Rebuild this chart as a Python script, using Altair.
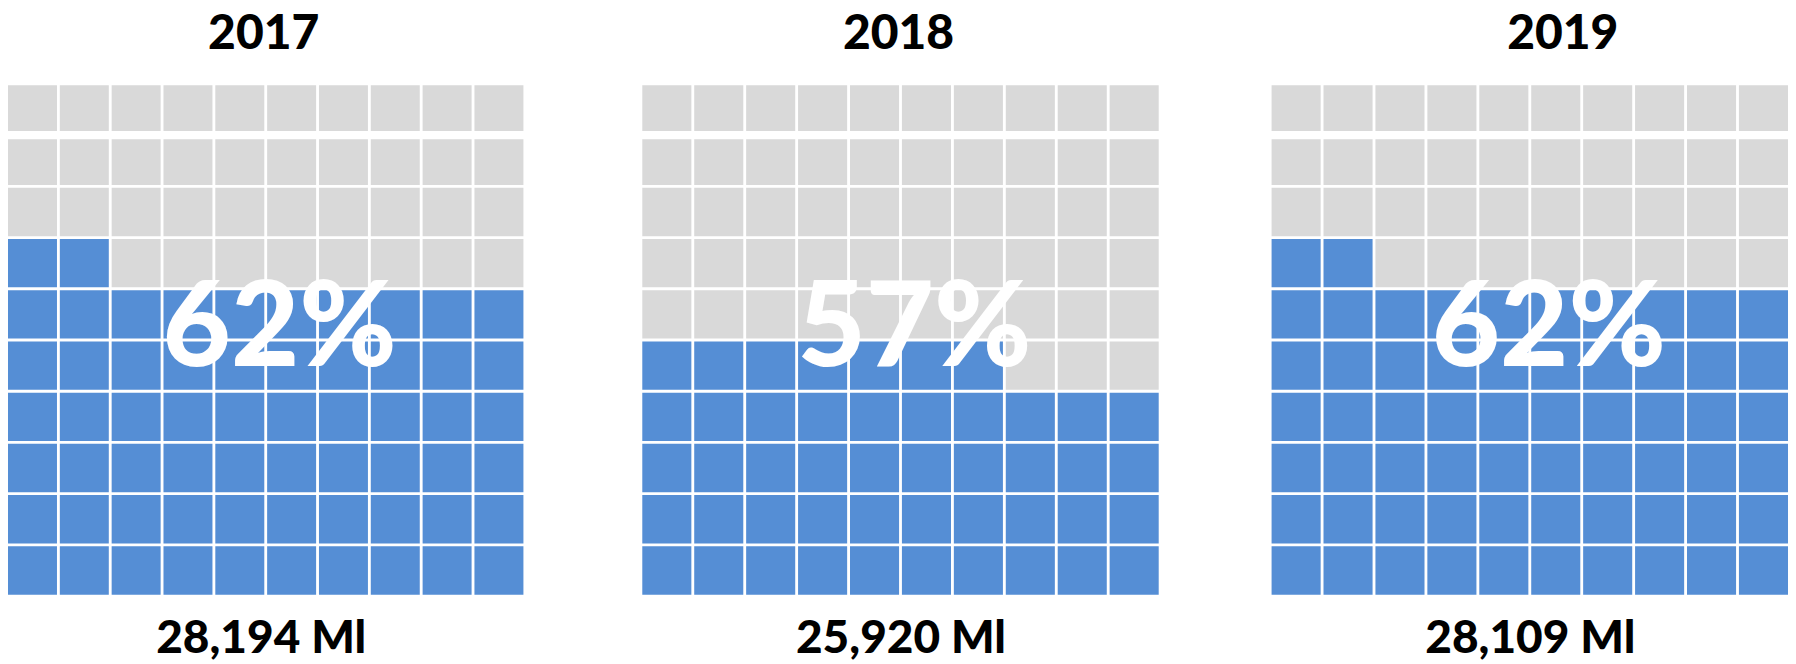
import altair as alt
import pandas as pd

# ---- data ----
years = ["2017", "2018", "2019"]
pct_labels = ["62%", "57%", "62%"]
filled_cells = [62, 47, 62]          # blue squares counted in each 10x10 grid
volume_labels = ["28,194 Ml", "25,920 Ml", "28,109 Ml"]

BLUE = "#558ED5"
GREY = "#D9D9D9"
FONT = "Lato"

rows = []
for yr, n in zip(years, filled_cells):
    for i in range(100):
        rows.append({"year": yr, "row": i // 10, "col": i % 10,
                     "state": "filled" if i < n else "empty"})
cells = pd.DataFrame(rows)
labels = pd.DataFrame({"year": years, "pct": pct_labels, "volume": volume_labels})

widths = [516, 517, 517]
title_dx = [-2, -2, 33]
pct_dx = [14, 14, 19]
vol_dx = [-5, 0, 0]
H = 510
G = 0.0275


def panel(k):
    yr = years[k]
    W = widths[k]
    base = alt.Chart(cells).transform_filter(alt.datum.year == yr).transform_calculate(
        x0=f"datum.col + {G}",
        x1=f"datum.col + {1 - G}",
        y0=f"datum.row + (datum.row == 9 ? 0.08 : {G})",
        y1=f"datum.row + (datum.row == 8 ? 0.92 : {1 - G})",
    )
    rects = base.mark_rect().encode(
        x=alt.X("x0:Q",
                scale=alt.Scale(domain=[G, 10 - G], nice=False, zero=False),
                axis=alt.Axis(labels=False, ticks=False, domain=False, grid=False,
                              title=volume_labels[k], titleFont=FONT,
                              titleFontSize=46, titleFontWeight=900,
                              titleColor="black", titlePadding=22,
                              titleX=W / 2 + vol_dx[k])),
        x2="x1:Q",
        y=alt.Y("y0:Q",
                scale=alt.Scale(domain=[G, 10 - G], nice=False, zero=False),
                axis=None),
        y2="y1:Q",
        color=alt.Color("state:N",
                        scale=alt.Scale(domain=["filled", "empty"], range=[BLUE, GREY]),
                        legend=None),
    )
    text = alt.Chart(labels).transform_filter(alt.datum.year == yr).mark_text(
        font=FONT, fontWeight=900, fontSize=118, color="white",
        align="center", baseline="middle", dx=pct_dx[k]
    ).encode(
        x=alt.value(W / 2),
        y=alt.value(H / 2 - 9),
        text="pct:N",
    )
    return alt.layer(rects, text).properties(
        width=W, height=H,
        title=alt.TitleParams(yr, font=FONT, fontSize=48, fontWeight=900,
                              color="black", anchor="middle", offset=26,
                              dx=title_dx[k]),
    )


chart = alt.hconcat(
    alt.hconcat(panel(0), panel(1), spacing=119),
    panel(2),
    spacing=113,
).properties(
    padding={"left": 0, "top": 3, "right": 0, "bottom": 0}
).configure_view(stroke=None)

chart.save("out.html", embed_options={"renderer": "svg", "actions": False})
